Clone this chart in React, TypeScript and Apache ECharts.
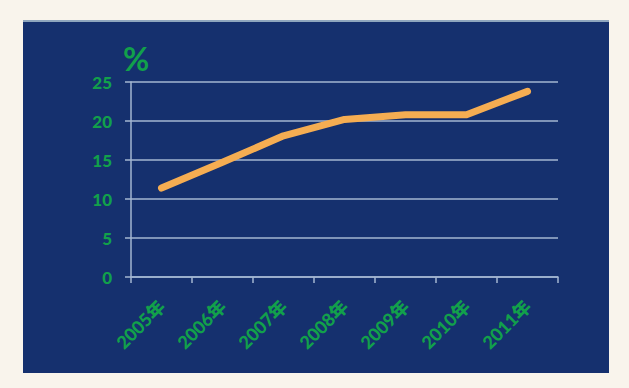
import React, { useEffect, useRef } from "react";
import * as echarts from "echarts";

const categories = ["2005年", "2006年", "2007年", "2008年", "2009年", "2010年", "2011年"];
const values = [11.4, 14.7, 18.1, 20.2, 20.8, 20.8, 23.8];
const yTicks = [0, 5, 10, 15, 20, 25];

const GREEN = "#12a04b";
const GRID = "#a3b6d2";
const FONT = "Lato, 'Noto Sans CJK SC', sans-serif";

export default function App() {
  const ref = useRef<HTMLDivElement>(null);
  useEffect(() => {
    document.body.style.margin = "0";
    const chart = echarts.init(ref.current!, undefined, { renderer: "svg" });
    chart.setOption({
      animation: false,
      backgroundColor: "#f9f4ec",
      graphic: [
        { type: "rect", z: -10, shape: { x: 23, y: 20, width: 586, height: 353 }, style: { fill: "#15306e" } },
        { type: "rect", z: -9, shape: { x: 23, y: 20, width: 586, height: 2 }, style: { fill: "#8fa6be" } },
        {
          type: "text",
          x: 136,
          y: 58,
          style: { text: "%", fill: GREEN, font: `bold 32px ${FONT}`, align: "center", verticalAlign: "middle" },
        },
      ],
      grid: { left: 131, top: 82, right: 71, bottom: 111, containLabel: false },
      xAxis: {
        type: "category",
        data: categories,
        boundaryGap: true,
        axisLine: { lineStyle: { color: GRID, width: 1.5 } },
        axisTick: { show: true, length: 6, lineStyle: { color: GRID, width: 1.5 } },
        axisLabel: {
          rotate: 45,
          margin: 26,
          color: GREEN,
          fontWeight: 900,
          fontSize: 18,
          fontFamily: FONT,
          interval: 0,
        },
      },
      yAxis: {
        type: "value",
        min: yTicks[0],
        max: yTicks[yTicks.length - 1],
        interval: 5,
        axisLine: { show: true, lineStyle: { color: GRID, width: 1.5 } },
        axisTick: { show: true, length: 6, lineStyle: { color: GRID, width: 1.5 } },
        splitLine: { lineStyle: { color: GRID, width: 1.5 } },
        axisLabel: { color: GREEN, fontWeight: 900, fontSize: 17, fontFamily: FONT, margin: 19 },
      },
      series: [
        {
          type: "line",
          data: values,
          symbol: "none",
          lineStyle: { color: "#f5ad52", width: 7, cap: "round", join: "round" },
        },
      ],
    });
    return () => chart.dispose();
  }, []);
  return <div ref={ref} style={{ position: "fixed", left: 0, top: 0, width: 629, height: 388 }} />;
}
